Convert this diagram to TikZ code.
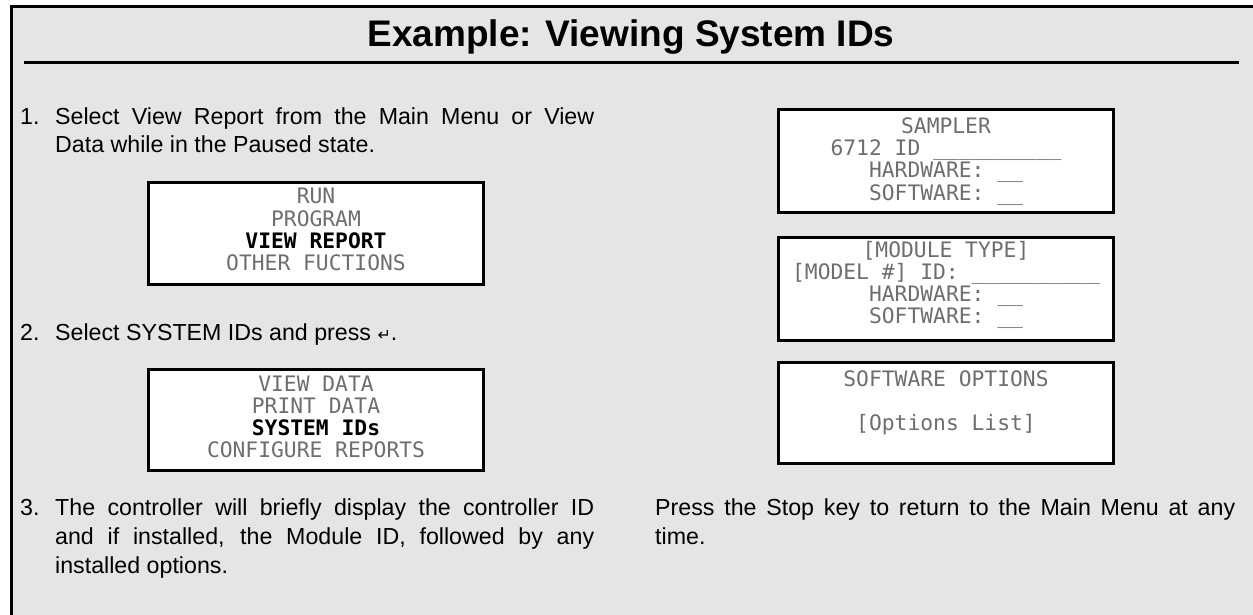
\documentclass[tikz,border=0pt]{standalone}
\usepackage{fontspec}
\setmainfont{Liberation Sans}
\newfontfamily\lcdfont{DejaVu Sans Mono}
\newfontfamily\symfont{DejaVu Sans}
\definecolor{bggrey}{HTML}{E5E5E5}
\definecolor{lcdgrey}{HTML}{6E6E6E}
\begin{document}
\begin{tikzpicture}[x=1pt,y=-1pt,
  lcdbox/.style={draw=black, line width=3pt, fill=white, inner sep=0pt, minimum width=335pt},
  lcd/.style={anchor=base, inner sep=0pt, text=lcdgrey, font=\lcdfont\fontsize{21.3}{22}\selectfont},
  lcdsel/.style={anchor=base, inner sep=0pt, text=black, font=\lcdfont\bfseries\fontsize{21.3}{22}\selectfont},
  body/.style={anchor=base west, inner sep=0pt, font=\fontsize{23.2}{28}\selectfont},
  rulebar/.style={line width=3pt}]
\useasboundingbox (0,0) rectangle (1253,615);
% background frame
\fill[white] (0,0) rectangle (1253,615);
\fill[bggrey] (11,7) rectangle (1253,615);
\draw[rulebar] (11,615) -- (11,7) -- (1253,7);
% title
\node[anchor=base, inner sep=0pt, font=\bfseries\fontsize{37}{40}\selectfont] (title) at (631,47) {Example: Viewing System IDs};
\coordinate (ruleL) at (24,63);
\coordinate (ruleR) at (1239,63);
\draw[rulebar] (ruleL) -- (ruleR);
% step 1
\node[body] (n1) at (20,125) {1.};
\node[body] (s1a) at (55,125) {\makebox[539pt][s]{Select View Report from the Main Menu or View}};
\node[body] (s1b) at (55,153) {Data while in the Paused state.};
% menu 1
\node[lcdbox, minimum height=102pt] (menu1) at (316,233) {};
\node[lcd] (m1a) at (316,204) {RUN};
\node[lcd] (m1b) at (316,226) {PROGRAM};
\node[lcdsel] (m1c) at (316,248) {VIEW REPORT};
\node[lcd] (m1d) at (316,270) {OTHER FUCTIONS};
% step 2
\node[body] (n2) at (20,340) {2.};
\node[body] (s2a) at (55,340) {Select SYSTEM IDs and press {\symfont\fontsize{16}{20}\selectfont ↵}.};
% menu 2
\node[lcdbox, minimum height=101pt] (menu2) at (316,420) {};
\node[lcd] (m2a) at (316,391) {VIEW DATA};
\node[lcd] (m2b) at (316,413) {PRINT DATA};
\node[lcdsel] (m2c) at (316,435) {SYSTEM IDs};
\node[lcd] (m2d) at (316,457) {CONFIGURE REPORTS};
% step 3
\node[body] (n3) at (20,515) {3.};
\node[body] (s3a) at (55,515) {\makebox[539pt][s]{The controller will briefly display the controller ID}};
\node[body] (s3b) at (55,544) {\makebox[539pt][s]{and if installed, the Module ID, followed by any}};
\node[body] (s3c) at (55,573) {installed options.};
% right displays
\node[lcdbox, minimum height=102pt] (disp1) at (946,161) {};
\node[lcd] (d1a) at (946,134) {SAMPLER};
\node[lcd] (d1b) at (946,156) {6712 ID \_\_\_\_\_\_\_\_\_\_};
\node[lcd] (d1c) at (946,178) {HARDWARE: \_\_};
\node[lcd] (d1d) at (946,200) {SOFTWARE: \_\_};
\node[lcdbox, minimum height=103pt] (disp2) at (946,288.5) {};
\node[lcd] (d2a) at (946,257) {[MODULE TYPE]};
\node[lcd] (d2b) at (946,279) {[MODEL \#] ID: \_\_\_\_\_\_\_\_\_\_};
\node[lcd] (d2c) at (946,301) {HARDWARE: \_\_};
\node[lcd] (d2d) at (946,323) {SOFTWARE: \_\_};
\node[lcdbox, minimum height=101pt] (disp3) at (946,412.5) {};
\node[lcd] (d3a) at (946,386) {SOFTWARE OPTIONS};
\node[lcd] (d3b) at (946,430) {[Options List]};
% right note
\node[body] (p1) at (655,515) {\makebox[580pt][s]{Press the Stop key to return to the Main Menu at any}};
\node[body] (p2) at (655,544) {time.};
\end{tikzpicture}
\end{document}
